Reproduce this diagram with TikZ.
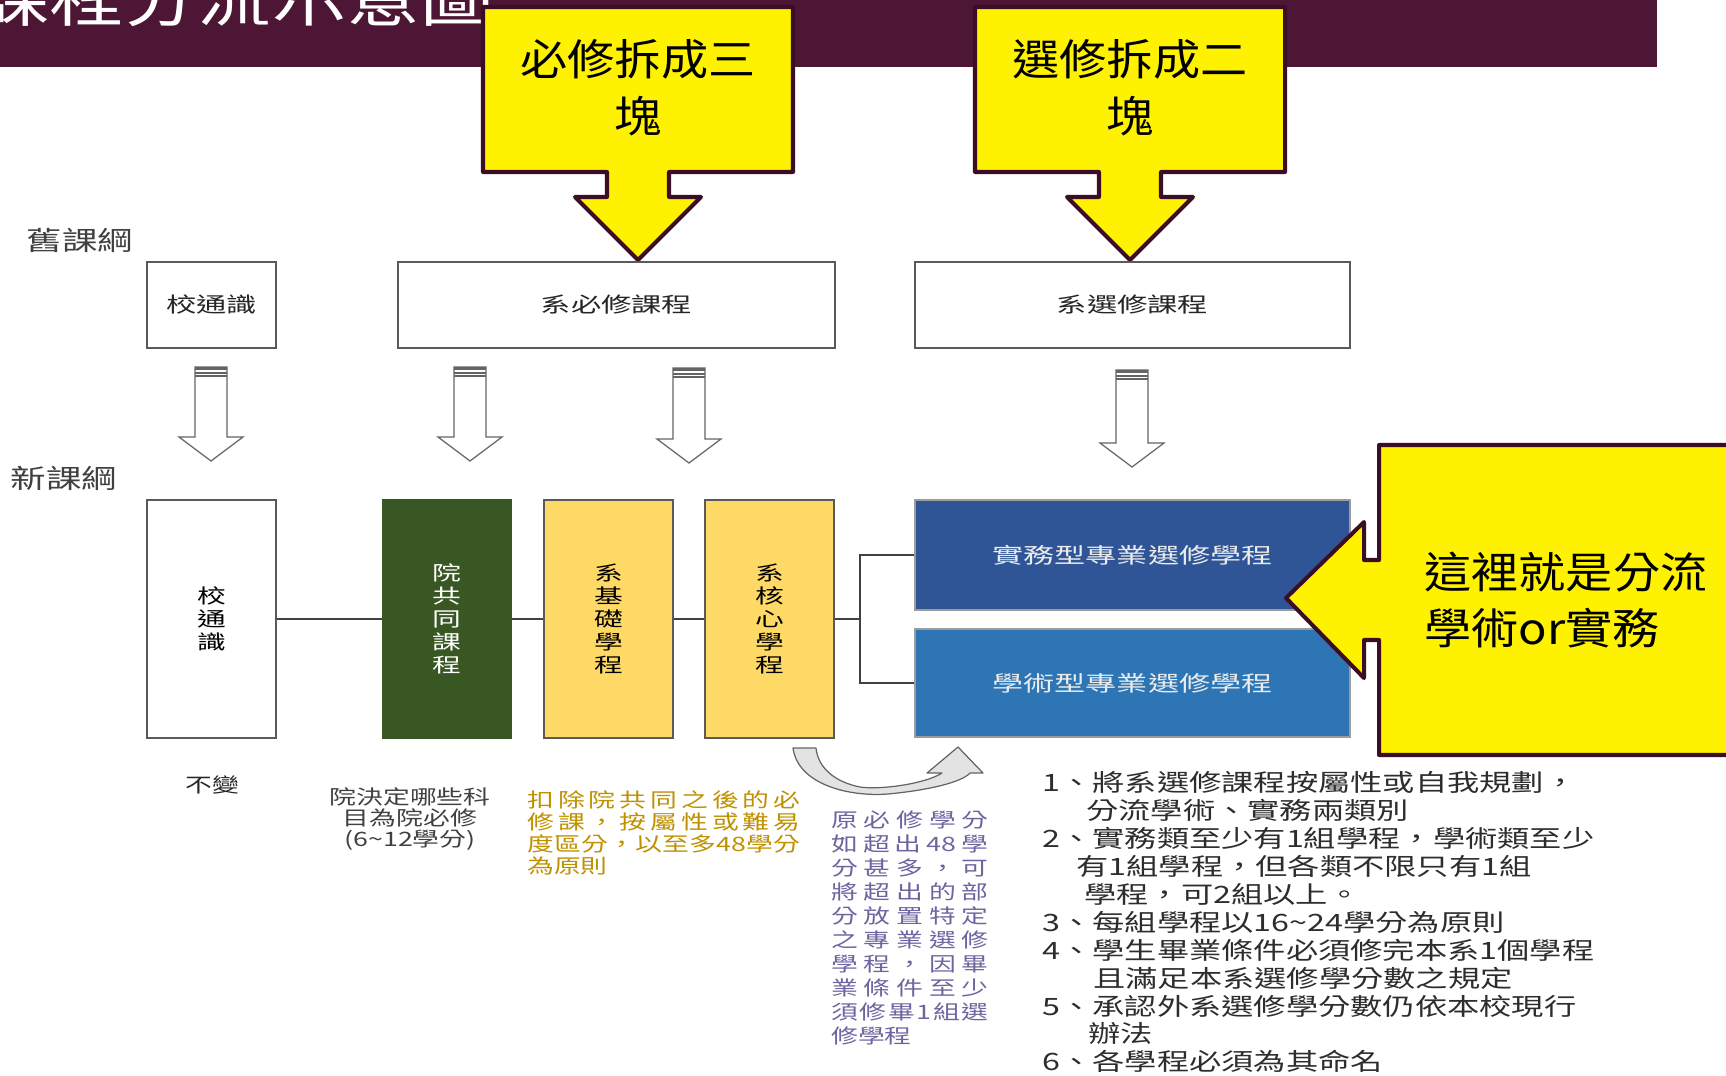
\documentclass[tikz,border=0pt]{standalone}
\usepackage{fontspec}
\setmainfont{Noto Sans CJK TC}
\newfontfamily\titlefont[FakeStretch=1.2]{Noto Sans CJK TC}
\newfontfamily\callfont[FakeStretch=1.1]{Noto Sans CJK TC}
\newfontfamily\boxfont[FakeStretch=1.45]{Noto Sans CJK TC}
\newfontfamily\notefont[FakeStretch=1.35]{Noto Sans CJK TC}
\usetikzlibrary{positioning}
\definecolor{bandmaroon}{RGB}{78,22,53}
\definecolor{calloutedge}{RGB}{60,14,38}
\definecolor{edgegray}{RGB}{90,90,90}
\definecolor{linegray}{RGB}{64,64,64}
\definecolor{arrowgray}{RGB}{100,100,100}
\definecolor{collegegreen}{RGB}{56,87,35}
\definecolor{deptgold}{RGB}{255,217,102}
\definecolor{pracblue}{RGB}{47,85,151}
\definecolor{acadblue}{RGB}{46,117,182}
\definecolor{labelgray}{RGB}{64,64,64}
\definecolor{goldtext}{RGB}{191,144,0}
\definecolor{movepurple}{RGB}{112,100,160}
\definecolor{listgray}{RGB}{45,45,45}
\newdimen\pxd \pxd=0.02cm
% one justified line of a note, #1 wide
\newcommand\spreadline[2]{\makebox[#1\pxd][s]{\spaceskip=0pt plus 1fil\relax #2}}
\begin{document}
\begin{tikzpicture}[x=0.02cm, y=-0.02cm,
    oldbox/.style={draw=edgegray, line width=0.8pt, fill=white, inner sep=0pt, text=black!85,
      font=\boxfont\fontsize{11.9pt}{13pt}\selectfont, minimum height=86*\pxd},
    newbox/.style={draw=edgegray, line width=0.8pt, inner sep=0pt, align=center,
      font=\boxfont\fontsize{11.3pt}{13pt}\selectfont, minimum width=129*\pxd, minimum height=238*\pxd},
    trackbox/.style={draw=edgegray!60, line width=0.8pt, inner sep=0pt, text=white!92!black,
      font=\boxfont\fontsize{12.2pt}{13pt}\selectfont, minimum width=435*\pxd},
    link/.style={draw=linegray, line width=0.9pt},
    hollow/.style={draw=arrowgray, line width=0.7pt, fill=white},
    callout/.style={draw=calloutedge, line width=2.3pt, fill=yellow, line join=round},
    calltext/.style={font=\callfont\fontsize{24.4pt}{32.3pt}\selectfont, inner sep=0pt},
    period/.style={text=labelgray, font=\notefont\fontsize{15pt}{16pt}\selectfont, inner sep=0pt},
    note/.style={inner sep=0pt, font=\notefont\fontsize{11.3pt}{12.5pt}\selectfont}]
  \useasboundingbox (0,0) rectangle (1726,1075);
  % title band
  \fill[bandmaroon] (0,0) rectangle (1657,67);
  \node[anchor=base west, inner sep=0pt, text=white,
    font=\titlefont\fontsize{35.2pt}{40pt}\selectfont] (title) at (-25,21) {課程分流示意圖};
  % yellow callouts on top
  \foreach \cx/\txt/\nm in {638/必修拆成三\\塊/reqcall, 1130/選修拆成二\\塊/eleccall} {
    \draw[callout] (\cx-155,7) -- (\cx+155,7) -- (\cx+155,172) -- (\cx+31,172) -- (\cx+31,197)
      -- (\cx+63,197) -- (\cx,260) -- (\cx-63,197) -- (\cx-31,197) -- (\cx-31,172) -- (\cx-155,172) -- cycle;
    \node[calltext, align=center] (\nm) at (\cx,88) {\txt};
  }
  % old and new labels
  \node[period] (labelold) at (80,240) {舊課綱};
  \node[period] (labelnew) at (64,478) {新課綱};
  % old curriculum
  \node[oldbox, minimum width=129*\pxd] (oldgen) at (211.5,305) {校通識};
  \node[oldbox, minimum width=437*\pxd] (oldreq) at (616.5,305) {系必修課程};
  \node[oldbox, minimum width=435*\pxd] (oldelec) at (1132.5,305) {系選修課程};
  % hollow arrows
  \foreach \ax/\at/\ah/\ap in {211/367/437/461, 470/367/437/461, 689/368/439/463, 1132/370/443/467} {
    \draw[hollow] (\ax-16,\at) -- (\ax+16,\at) -- (\ax+16,\ah) -- (\ax+32,\ah) -- (\ax,\ap)
      -- (\ax-32,\ah) -- (\ax-16,\ah) -- cycle;
    \fill[arrowgray] (\ax-16,\at) rectangle (\ax+16,\at+3);
    \draw[arrowgray, line width=0.6pt] (\ax-16,\at+6) -- (\ax+16,\at+6);
    \draw[arrowgray, line width=0.6pt] (\ax-16,\at+9) -- (\ax+16,\at+9);
  }
  % new curriculum
  \node[newbox, fill=white] (newgen) at (211.5,619) {校\\通\\識};
  \node[newbox, fill=collegegreen, draw=collegegreen, text=white] (college) at (447,619) {院\\共\\同\\課\\程};
  \node[newbox, fill=deptgold] (basic) at (608.5,619) {系\\基\\礎\\學\\程};
  \node[newbox, fill=deptgold] (core) at (769.5,619) {系\\核\\心\\學\\程};
  \node[trackbox, fill=pracblue, minimum height=110*\pxd] (prac) at (1132.5,555) {實務型專業選修學程};
  \node[trackbox, fill=acadblue, minimum height=108*\pxd] (acad) at (1132.5,683) {學術型專業選修學程};
  \draw[link] (newgen) -- (college);
  \draw[link] (college) -- (basic);
  \draw[link] (basic) -- (core);
  \draw[link] (core.east) -- ++(25,0) coordinate (fork);
  \draw[link] (fork) |- (prac.west);
  \draw[link] (fork) |- (acad.west);
  % big callout on the right
  \draw[callout] (1379,445) -- (1760,445) -- (1760,755) -- (1379,755) -- (1379,640) -- (1364,640)
    -- (1364,678) -- (1286,598) -- (1364,522) -- (1364,560) -- (1379,560) -- cycle;
  \node[calltext, anchor=west, align=left] (splitcall) at (1424,600) {這裡就是分流\\學術or實務};
  % curved arrow
  \draw[draw=arrowgray, line width=0.7pt, fill=gray!22, line join=round]
    (793,748) .. controls (798,785) and (850,797) .. (888,794)
    .. controls (930,790) and (962,782) .. (970,773) -- (983,773) -- (958,747) -- (927,773) -- (942,773)
    .. controls (925,784) and (880,790) .. (860,787) .. controls (835,782) and (818,768) .. (816,748) -- cycle;
  % notes
  \node[note, text=black!85] (keep) at (212,785) {不變};
  \node[note, align=center, text=labelgray, font=\notefont\fontsize{11.3pt}{12.2pt}\selectfont]
    (collegenote) at (410,819) {院決定哪些科\\目為院必修\\(6\textasciitilde 12學分)};
  \node[note, align=left, text=goldtext, anchor=north west] (basicnote) at (527,790)
    {\spreadline{273}{扣 除 院 共 同 之 後 的 必}\\
     \spreadline{273}{修 課 ， 按 屬 性 或 難 易}\\
     \spreadline{273}{度 區 分 ， 以 至 多 48 學 分}\\
     為原則};
  \node[note, align=left, text=movepurple, anchor=north west,
    font=\notefont\fontsize{11.3pt}{13.7pt}\selectfont] (movenote) at (831,810)
    {\spreadline{157}{原 必 修 學 分}\\
     \spreadline{157}{如 超 出 48 學}\\
     \spreadline{157}{分 甚 多 ， 可}\\
     \spreadline{157}{將 超 出 的 部}\\
     \spreadline{157}{分 放 置 特 定}\\
     \spreadline{157}{之 專 業 選 修}\\
     \spreadline{157}{學 程 ， 因 畢}\\
     \spreadline{157}{業 條 件 至 少}\\
     \spreadline{157}{須 修 畢 1 組 選}\\
     修學程};
  \node[note, align=left, text=listgray, anchor=north west,
    font=\notefont\fontsize{13.6pt}{15.9pt}\selectfont] (rulelist) at (1042,771)
    {1、將系選修課程按屬性或自我規劃，\\
     \hspace*{44\pxd}分流學術、實務兩類別\\
     2、實務類至少有1組學程，學術類至少\\
     \hspace*{34\pxd}有1組學程，但各類不限只有1組\\
     \hspace*{42\pxd}學程，可2組以上。\\
     3、每組學程以16\textasciitilde 24學分為原則\\
     4、學生畢業條件必須修完本系1個學程\\
     \hspace*{51\pxd}且滿足本系選修學分數之規定\\
     5、承認外系選修學分數仍依本校現行\\
     \hspace*{46\pxd}辦法\\
     6、各學程必須為其命名};
\end{tikzpicture}
\end{document}
